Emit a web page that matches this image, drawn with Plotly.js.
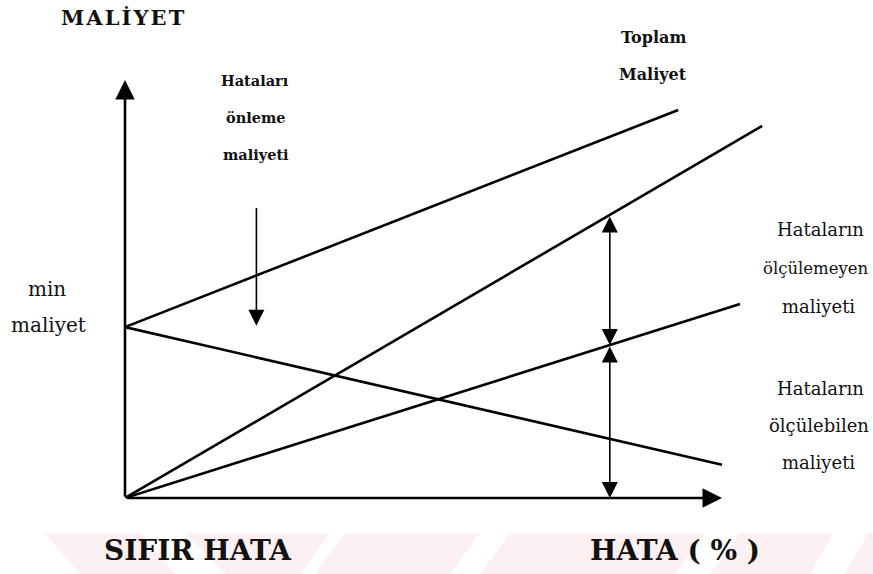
<!DOCTYPE html>
<html>
<head>
<meta charset="utf-8">
<script src="https://cdn.plot.ly/plotly-3.0.1.min.js"></script>
<style>html,body{margin:0;padding:0;background:#fff;}#chart{width:873px;height:574px;}</style>
</head>
<body>
<div id="chart"></div>
<script>
// Conceptual cost curves (x: error %, y: cost)
const preventionX = [0, 92.2];   // Hataları önleme maliyeti (rising from min maliyet)
const preventionY = [40.7, 92.4];
const decliningX = [0, 99.5];    // falling line from min maliyet
const decliningY = [40.7, 7.9];
const totalX = [0, 106.2];       // steep line from origin
const totalY = [0, 88.6];
const measurableX = [0, 102.5];  // shallower line from origin
const measurableY = [0, 46.2];
const markerX = 80.8;            // vertical double-arrow position
const markerMidY = 36.4;
const markerTopY = 67.4;
const downArrowX = 21.9;
const downArrowY = [69.4, 41.0];

const lineStyle = {color: '#000', width: 2.6};
const traces = [
  {x: preventionX, y: preventionY, mode: 'lines', line: lineStyle, hoverinfo: 'skip'},
  {x: decliningX, y: decliningY, mode: 'lines', line: lineStyle, hoverinfo: 'skip'},
  {x: totalX, y: totalY, mode: 'lines', line: lineStyle, hoverinfo: 'skip'},
  {x: measurableX, y: measurableY, mode: 'lines', line: lineStyle, hoverinfo: 'skip'}
];

function arrow(x0, y0, x1, y1, opts) {
  return Object.assign({
    x: x1, y: y1, ax: x0, ay: y0, xref: 'x', yref: 'y', axref: 'x', ayref: 'y',
    text: '', showarrow: true, arrowhead: 2, arrowsize: 2.0, arrowwidth: 1.6,
    arrowcolor: '#000', standoff: 0, startstandoff: 0
  }, opts || {});
}

const PW = 660, PH = 420, L = 125, B = 498;
const serif = 'DejaVu Serif';
function label(text, px, py, size, bold) {
  return {
    text: bold ? '<b>' + text + '</b>' : text,
    x: (px - L) / PW, y: (B - py) / PH, xref: 'paper', yref: 'paper',
    showarrow: false, xanchor: 'center', yanchor: 'middle',
    font: {family: serif, size: size, color: '#111'}
  };
}

const hs = '\u200A';
const annotations = [
  arrow(0, 0, 0, 99.5, {arrowwidth: 2.6, arrowsize: 1.5}),
  arrow(0, 0, 99.5, 0, {arrowwidth: 2.6, arrowsize: 1.5}),
  arrow(downArrowX, downArrowY[0], downArrowX, downArrowY[1]),
  arrow(markerX, markerMidY, markerX, 0, {arrowside: 'end+start'}),
  arrow(markerX, markerTopY, markerX, markerMidY, {arrowside: 'end+start'}),
  label(['M','A','L','İ','Y','E','T'].join(hs), 123, 17, 21, true),
  label('Hataları', 255, 80, 14.5, true),
  label('önleme', 256, 117, 14.5, true),
  label('maliyeti', 256, 154, 14.5, true),
  label('Toplam', 653, 38, 16, true),
  label('Maliyet', 653, 74, 16, true),
  label('Hataların', 821, 229, 18, false),
  label('ölçülemeyen', 816, 268, 16.5, false),
  label('maliyeti', 818, 306, 18, false),
  label('Hataların', 821, 388, 18, false),
  label('ölçülebilen', 819, 425, 18, false),
  label('maliyeti', 818, 462, 18, false),
  label('min', 47, 289, 20, false),
  label('maliyet', 48, 325, 20, false),
  label('SIFIR HATA', 198, 550, 28, true),
  label('HATA ( % )', 675, 550, 28, true)
];

function px2paper(px, py) { return [((px - L) / PW).toFixed(4), ((B - py) / PH).toFixed(4)]; }
function poly(pts) {
  return 'M' + pts.map(p => px2paper(p[0], p[1]).join(',')).join(' L') + ' Z';
}
const pink = '#fdf0f2';
const bands = [
  [[45,533],[140,533],[175,574],[80,574]],
  [[185,533],[330,533],[300,574],[225,574]],
  [[345,533],[480,533],[450,574],[315,574]],
  [[510,533],[705,533],[675,574],[480,574]],
  [[740,533],[833,533],[810,574],[710,574]],
  [[868,533],[873,533],[873,574],[845,574]]
];
const shapes = bands.map(b => ({type: 'path', xref: 'paper', yref: 'paper', path: poly(b),
  fillcolor: pink, line: {width: 0}, layer: 'below'}));

const layout = {
  width: 873, height: 574,
  font: {family: serif},
  margin: {l: L, r: 873 - L - PW, t: B - PH, b: 574 - B},
  paper_bgcolor: '#fff', plot_bgcolor: 'rgba(0,0,0,0)',
  showlegend: false,
  xaxis: {range: [0, 110], visible: false, fixedrange: true},
  yaxis: {range: [0, 100], visible: false, fixedrange: true},
  annotations: annotations,
  shapes: shapes
};
Plotly.newPlot('chart', traces, layout, {staticPlot: true});
</script>
</body>
</html>
